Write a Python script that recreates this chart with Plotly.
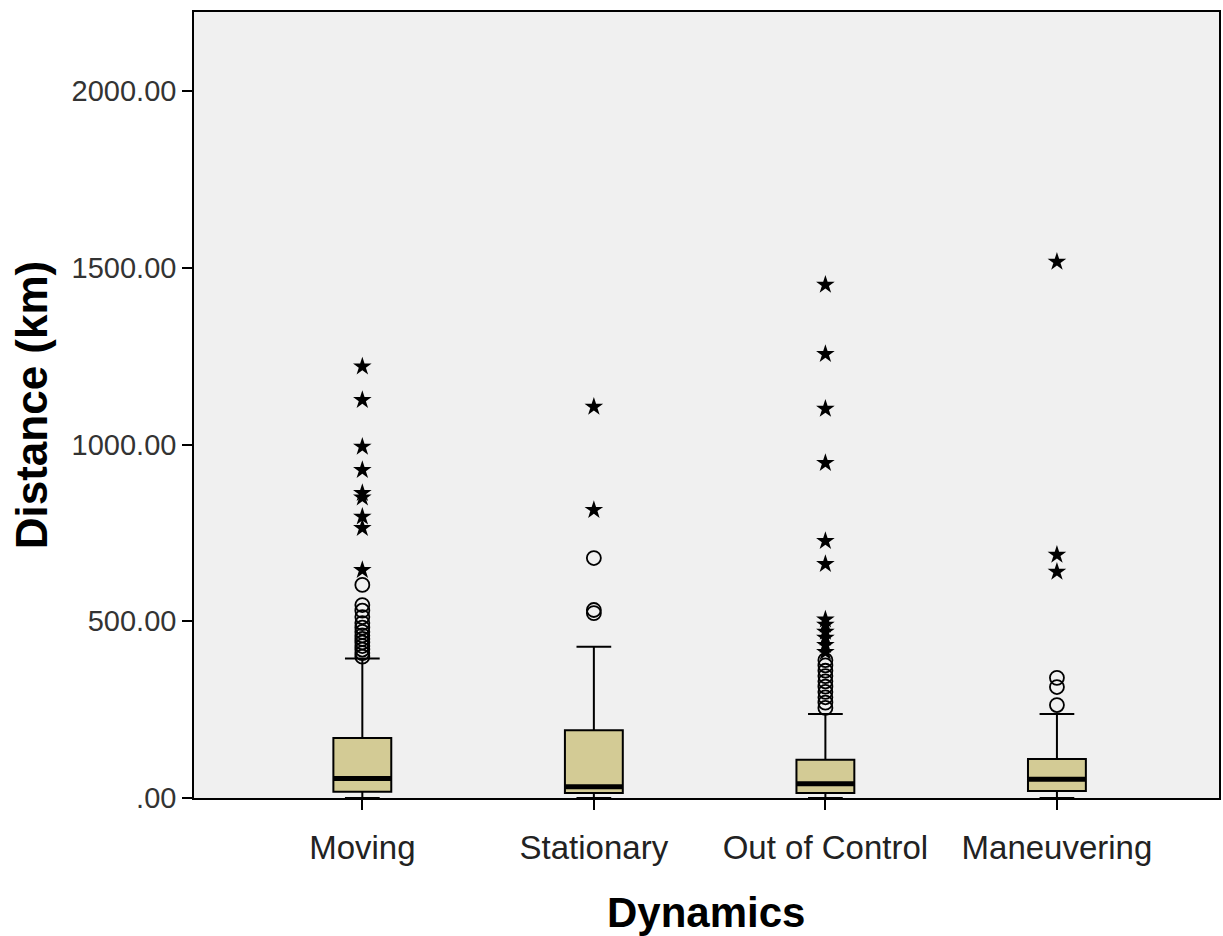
import plotly.graph_objects as go

categories = ["Moving", "Stationary", "Out of Control", "Maneuvering"]
q1_vals = [18, 14, 14, 20]
median_vals = [55, 32, 40, 53]
q3_vals = [170, 192, 108, 110]
lower_whisker = [0, 0, 0, 0]
upper_whisker = [395, 428, 238, 238]

circle_outliers = [
    [603, 546, 530, 512, 495, 482, 470, 460, 450, 440, 430, 420, 410, 400],
    [679, 532, 523],
    [390, 375, 360, 345, 330, 315, 300, 285, 270, 255],
    [340, 314, 263],
]
star_outliers = [
    [1221, 1126, 994, 928, 863, 850, 796, 764, 645],
    [1107, 815],
    [1452, 1256, 1101, 948, 727, 662, 505, 490, 470, 453, 433, 413],
    [1517, 688, 640],
]

y_ticks = [0, 500, 1000, 1500, 2000]
y_tick_labels = [".00", "500.00", "1000.00", "1500.00", "2000.00"]

BOX_W = 0.25
FILL = "#D3CB95"

fig = go.Figure()
for i, cat in enumerate(categories):
    fig.add_trace(go.Box(
        x=[i], q1=[q1_vals[i]], median=[median_vals[i]], q3=[q3_vals[i]],
        lowerfence=[lower_whisker[i]], upperfence=[upper_whisker[i]],
        width=BOX_W, whiskerwidth=0.6, fillcolor=FILL,
        line=dict(color="black", width=2), boxpoints=False,
        showlegend=False, name=cat,
    ))
    fig.add_trace(go.Scatter(
        x=[i - BOX_W / 2, i + BOX_W / 2], y=[median_vals[i], median_vals[i]],
        mode="lines", line=dict(color="black", width=5), showlegend=False,
    ))
    fig.add_trace(go.Scatter(
        x=[i] * len(circle_outliers[i]), y=circle_outliers[i], mode="markers",
        marker=dict(symbol="circle-open", size=14, color="black", line=dict(width=1.8)),
        showlegend=False,
    ))
    fig.add_trace(go.Scatter(
        x=[i] * len(star_outliers[i]), y=star_outliers[i], mode="markers",
        marker=dict(symbol="star", size=14, color="black"),
        showlegend=False,
    ))

fig.update_layout(
    width=1223, height=936,
    margin=dict(l=194, r=2, t=12, b=138),
    paper_bgcolor="white", plot_bgcolor="#F0F0F0",
    font=dict(family="Liberation Sans, Arial, sans-serif", color="#222"),
    xaxis=dict(
        range=[-0.727, 3.70], tickvals=list(range(len(categories))), ticktext=categories,
        ticks="outside", ticklen=10, tickwidth=1.5, tickcolor="black",
        showline=True, linecolor="black", linewidth=1.5, mirror=True,
        showgrid=False, zeroline=False, ticklabelstandoff=10,
        tickfont=dict(size=33, color="#222"),
    ),
    yaxis=dict(
        range=[0, 2224], tickvals=y_ticks, ticktext=y_tick_labels,
        ticks="outside", ticklen=10, tickwidth=1.5, tickcolor="black",
        showline=True, linecolor="black", linewidth=1.5, mirror=True,
        showgrid=False, zeroline=False,
        tickfont=dict(size=29, color="#333"),
        title=dict(text="<b>Distance (km)</b>", font=dict(size=44, color="black"), standoff=10),
    ),
    annotations=[dict(
        text="<b>Dynamics</b>", xref="paper", yref="paper", x=0.4995, y=-0.1463,
        xanchor="center", yanchor="middle", showarrow=False,
        font=dict(size=42, color="black"),
    )],
)

fig.write_html(
    "out.html",
    config={"displayModeBar": False},
    post_script="document.body.style.margin='0';document.body.style.overflow='hidden';",
)
